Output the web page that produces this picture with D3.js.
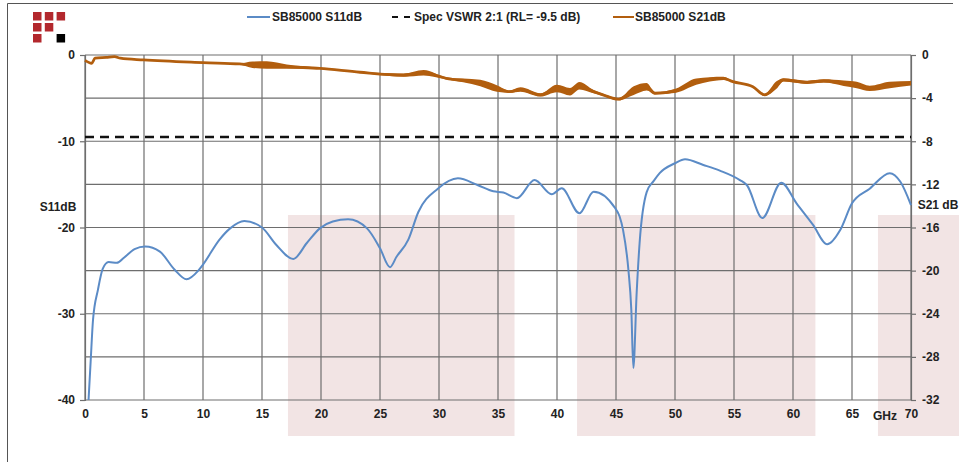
<!DOCTYPE html>
<html><head><meta charset="utf-8">
<script src="https://cdn.jsdelivr.net/npm/d3@7/dist/d3.min.js"></script>
<style>html,body{margin:0;padding:0;background:#fff;} text{font-family:"Liberation Sans",Arial,sans-serif;font-weight:bold;fill:#222;}</style>
</head><body>
<svg id="c" width="959" height="462"></svg>
<script>
// ---- data ----
const s11Freq = [0.3,0.48,0.68,1.1,1.5,2.0,2.7,3.3,4.2,5.1,6.35,7.6,8.6,9.6,10.0,11.4,12.3,13.5,15.0,16.2,17.65,18.8,19.9,21.0,22.3,23.9,25.0,25.85,26.4,27.4,28.25,29.9,31.6,33.3,34.6,35.45,36.6,38.1,39.55,40.4,41.9,43.1,44.9,45.3,45.6,46.05,46.3,46.47,46.75,47.0,47.6,48.2,48.7,50.0,50.85,52.4,53.8,55.5,56.1,57.4,59.0,60.3,61.7,62.9,64.0,65.0,66.5,68.2,69.1,70.0];
const s11dB = [-40,-35.5,-30.7,-27.2,-24.8,-24.0,-24.1,-23.5,-22.5,-22.2,-22.8,-24.9,-26.0,-25.0,-24.3,-21.4,-20.1,-19.25,-20.0,-22.0,-23.65,-21.8,-20.1,-19.3,-19.05,-20.1,-22.4,-24.6,-23.4,-21.4,-18.2,-15.5,-14.3,-15.1,-15.8,-15.95,-16.6,-14.5,-16.15,-15.45,-18.35,-15.85,-17.7,-18.7,-20.3,-24.9,-29.6,-36.3,-27.6,-21.8,-15.9,-14.6,-13.7,-12.55,-12.1,-12.75,-13.4,-14.5,-15.1,-18.9,-14.8,-17.2,-19.7,-21.95,-20.3,-17.2,-15.5,-13.7,-14.7,-17.4];

const s21Freq = [0,0.57,0.85,1.8,2.5,3.0,4.95,10,13.1,14.2,15.4,17.1,19.9,23.3,27.0,28.7,30.6,33.5,34.9,36.0,36.9,38.6,40.0,41.1,41.9,43.1,43.9,45.2,46.5,47.6,48.3,50.1,51.8,54.1,54.9,56.6,57.6,58.6,59.2,61.2,62.6,64.3,65.4,66.5,68.2,70];
const s21dB = [-0.5,-0.77,-0.3,-0.22,-0.15,-0.3,-0.46,-0.71,-0.83,-0.9,-0.93,-1.08,-1.24,-1.6,-1.86,-1.64,-2.16,-2.6,-3.1,-3.4,-3.2,-3.7,-3.1,-3.4,-2.85,-3.4,-3.7,-4.1,-3.3,-2.94,-3.55,-3.3,-2.47,-2.16,-2.47,-2.94,-3.7,-2.78,-2.3,-2.53,-2.41,-2.62,-2.78,-3.1,-2.78,-2.62];
const s21Ripple = [0,0,0,0,0,0,0,0,0.05,0.3,0.35,0.2,0.05,0.05,0.15,0.25,0.1,0.3,0.3,0.1,0.2,0.15,0.35,0.35,0.35,0.15,0.1,0.1,0.4,0.35,0.1,0.2,0.3,0.15,0.05,0.05,0.1,0.35,0.15,0.15,0.15,0.25,0.3,0.25,0.3,0.2];

const specRL = -9.5;
const shadeBands = [[17.2,36.4],[41.7,61.9],[67.2,74.2]];
const xTicks = [0,5,10,15,20,25,30,35,40,45,50,55,60,65,70];
const xTickLabels = ["0","5","10","15","20","25","30","35","40","45","50","55","60","65","70"];
const leftTicks = [0,-10,-20,-30,-40];
const gridY = [0,-5,-10,-15,-20,-25,-30,-35,-40];
const rightTicks = [0,-4,-8,-12,-16,-20,-24,-28,-32];
const legendLabels = ["SB85000 S11dB","Spec VSWR 2:1 (RL= -9.5 dB)","SB85000 S21dB"];

// ---- layout ----
const svg = d3.select("#c");
const L = 85, R = 911, T = 55, B = 400;
const x = d3.scaleLinear().domain([0,70]).range([L,R]);
const yL = d3.scaleLinear().domain([-40,0]).range([B,T]);
const yR = d3.scaleLinear().domain([-32,0]).range([B,T]);
const blue = "#5b8bc6", brown = "#b25e0e", grid = "#6e6e6e";
const FS = "12px";

svg.append("rect").attr("width",959).attr("height",462).attr("fill","#fff");
// frame
svg.append("path").attr("d","M7.5,462 L7.5,3.5 L953,3.5").attr("fill","none").attr("stroke","#555").attr("stroke-width",1);

// logo
const logo = [[0,0,"#b3282d"],[1,0,"#b3282d"],[2,0,"#b3282d"],[0,1,"#b3282d"],[1,1,"#b3282d"],[0,2,"#b3282d"],[2,2,"#000"]];
svg.selectAll(".logo").data(logo).enter().append("rect")
  .attr("x",d=>33+d[0]*11.8).attr("y",d=>12+d[1]*11).attr("width",8.5).attr("height",8.5).attr("fill",d=>d[2]);

// shade bands
svg.selectAll(".band").data(shadeBands).enter().append("rect")
  .attr("x",d=>x(d[0])).attr("width",d=>x(d[1])-x(d[0]))
  .attr("y",215).attr("height",221).attr("fill","#f2e4e4");

// grid
svg.selectAll(".gv").data(xTicks).enter().append("line")
  .attr("x1",d=>x(d)).attr("x2",d=>x(d)).attr("y1",T).attr("y2",B)
  .attr("stroke",grid).attr("stroke-width",1.2);
svg.selectAll(".gh").data(gridY).enter().append("line")
  .attr("x1",L).attr("x2",R).attr("y1",d=>yL(d)).attr("y2",d=>yL(d))
  .attr("stroke",grid).attr("stroke-width",1.2);

// axes
const axL = d3.axisLeft(yL).tickValues(leftTicks).tickSize(5).tickPadding(5).tickFormat(d=>String(d));
const gL = svg.append("g").attr("transform",`translate(${L},0)`).call(axL);
const axR = d3.axisRight(yR).tickValues(rightTicks).tickSize(5).tickPadding(6).tickFormat(d=>String(d));
const gR = svg.append("g").attr("transform",`translate(${R},0)`).call(axR);
const axB = d3.axisBottom(x).tickValues(xTicks).tickSize(0).tickPadding(9).tickFormat((d,i)=>xTickLabels[i]);
const gB = svg.append("g").attr("transform",`translate(0,${B})`).call(axB);
[gL,gR,gB].forEach(g=>{
  g.select(".domain").attr("stroke",grid).attr("stroke-width",1.2);
  g.selectAll(".tick line").attr("stroke",grid).attr("stroke-width",1.2);
  g.selectAll("text").style("font-size",FS).style("font-family","'Liberation Sans',Arial,sans-serif").style("font-weight","bold").attr("fill","#222");
});
gB.select(".domain").remove();

svg.append("text").attr("x",58).attr("y",211).attr("text-anchor","middle").style("font-size",FS).text("S11dB");
svg.append("text").attr("x",938).attr("y",209).attr("text-anchor","middle").style("font-size",FS).text("S21 dB");
svg.append("text").attr("x",885).attr("y",420).attr("text-anchor","middle").style("font-size",FS).text("GHz");

// spec line
svg.append("line").attr("x1",L).attr("x2",R).attr("y1",yL(specRL)).attr("y2",yL(specRL))
  .attr("stroke","#111").attr("stroke-width",2.4).attr("stroke-dasharray","9,6");

// S21 ripple band + line
const s21 = s21Freq.map((f,i)=>({f, v:s21dB[i], r:s21Ripple[i]}));
svg.append("path").datum(s21)
  .attr("d",d3.area().x(d=>x(d.f)).y0(d=>yR(d.v-d.r)).y1(d=>yR(d.v+d.r)).curve(d3.curveMonotoneX))
  .attr("fill",brown);
svg.append("path").datum(s21)
  .attr("d",d3.line().x(d=>x(d.f)).y(d=>yR(d.v)).curve(d3.curveMonotoneX))
  .attr("fill","none").attr("stroke",brown).attr("stroke-width",2.8);

// S11 line
const s11 = s11Freq.map((f,i)=>({f, v:s11dB[i]}));
svg.append("path").datum(s11)
  .attr("d",d3.line().x(d=>x(d.f)).y(d=>yL(d.v)).curve(d3.curveMonotoneX))
  .attr("fill","none").attr("stroke",blue).attr("stroke-width",2);

// legend
const lg = svg.append("g");
lg.append("line").attr("x1",247).attr("x2",270).attr("y1",17).attr("y2",17).attr("stroke",blue).attr("stroke-width",2);
lg.append("text").attr("x",272).attr("y",21).style("font-size",FS).text(legendLabels[0]);
lg.append("line").attr("x1",392).attr("x2",412).attr("y1",17).attr("y2",17).attr("stroke","#111").attr("stroke-width",2).attr("stroke-dasharray","6,6");
lg.append("text").attr("x",414).attr("y",21).style("font-size",FS).text(legendLabels[1]);
lg.append("line").attr("x1",613).attr("x2",634).attr("y1",17).attr("y2",17).attr("stroke",brown).attr("stroke-width",2);
lg.append("text").attr("x",635).attr("y",21).style("font-size",FS).text(legendLabels[2]);
</script>
</body></html>
